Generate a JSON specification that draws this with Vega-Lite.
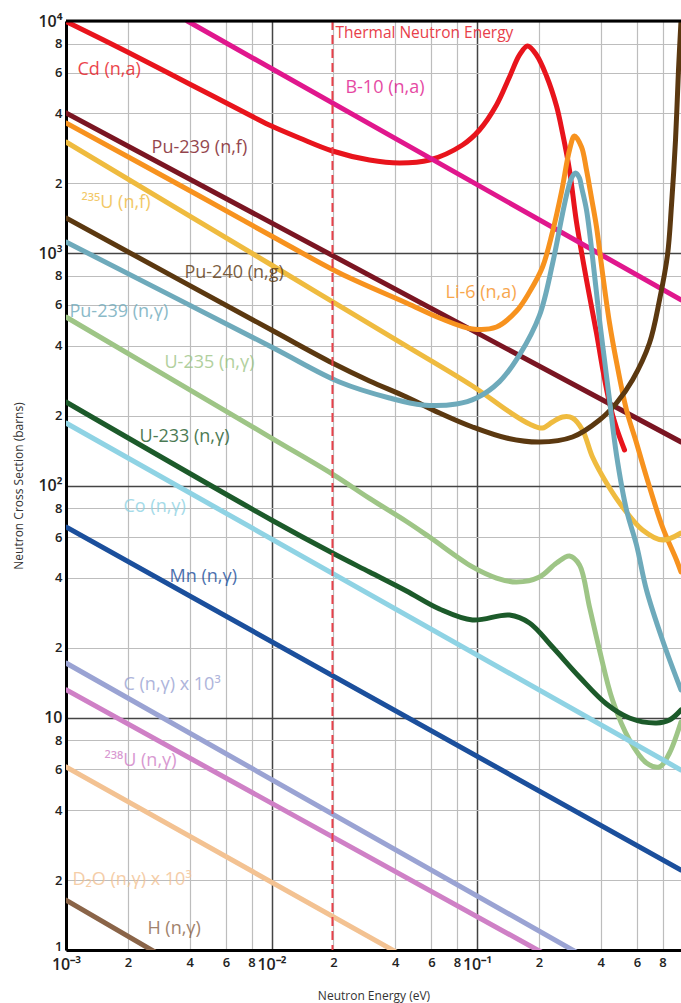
{
  "$schema": "https://vega.github.io/schema/vega-lite/v6.json",
  "width": 615,
  "height": 929,
  "autosize": "none",
  "padding": {"left": 66, "top": 21, "right": 0, "bottom": 53},
  "background": "white",
  "config": {"view": {"stroke": null}, "font": "Open Sans"},
  "datasets": {
    "curves": [
      {"series": "Cd (n,a)", "x": 0.001, "y": 9950},
      {"series": "Cd (n,a)", "x": 0.001992, "y": 7356},
      {"series": "Cd (n,a)", "x": 0.00399, "y": 5355},
      {"series": "Cd (n,a)", "x": 0.00799, "y": 3899},
      {"series": "Cd (n,a)", "x": 0.01, "y": 3530},
      {"series": "Cd (n,a)", "x": 0.01368, "y": 3135},
      {"series": "Cd (n,a)", "x": 0.0198, "y": 2756},
      {"series": "Cd (n,a)", "x": 0.03, "y": 2520},
      {"series": "Cd (n,a)", "x": 0.04197, "y": 2447},
      {"series": "Cd (n,a)", "x": 0.05873, "y": 2520},
      {"series": "Cd (n,a)", "x": 0.08499, "y": 2925},
      {"series": "Cd (n,a)", "x": 0.1028, "y": 3394},
      {"series": "Cd (n,a)", "x": 0.1244, "y": 4347},
      {"series": "Cd (n,a)", "x": 0.1439, "y": 5741},
      {"series": "Cd (n,a)", "x": 0.161, "y": 7140},
      {"series": "Cd (n,a)", "x": 0.1761, "y": 7805},
      {"series": "Cd (n,a)", "x": 0.1948, "y": 7140},
      {"series": "Cd (n,a)", "x": 0.2179, "y": 5798},
      {"series": "Cd (n,a)", "x": 0.2437, "y": 4305},
      {"series": "Cd (n,a)", "x": 0.2607, "y": 3294},
      {"series": "Cd (n,a)", "x": 0.2819, "y": 2282},
      {"series": "Cd (n,a)", "x": 0.3049, "y": 1363},
      {"series": "Cd (n,a)", "x": 0.3411, "y": 767},
      {"series": "Cd (n,a)", "x": 0.3815, "y": 453.7},
      {"series": "Cd (n,a)", "x": 0.4081, "y": 320.5},
      {"series": "Cd (n,a)", "x": 0.4414, "y": 226.6},
      {"series": "Cd (n,a)", "x": 0.4774, "y": 176.8},
      {"series": "Cd (n,a)", "x": 0.5222, "y": 142.2},

      {"series": "B-10 (n,a)", "x": 0.003897, "y": 10000},
      {"series": "B-10 (n,a)", "x": 0.9833, "y": 630},

      {"series": "Pu-239 (n,f)", "x": 0.001, "y": 4018},
      {"series": "Pu-239 (n,f)", "x": 0.9833, "y": 154},

      {"series": "Li-6 (n,a)", "x": 0.001, "y": 3638},
      {"series": "Li-6 (n,a)", "x": 0.004463, "y": 1764},
      {"series": "Li-6 (n,a)", "x": 0.01, "y": 1187},
      {"series": "Li-6 (n,a)", "x": 0.02142, "y": 822.2},
      {"series": "Li-6 (n,a)", "x": 0.04539, "y": 610.7},
      {"series": "Li-6 (n,a)", "x": 0.0657, "y": 526.4},
      {"series": "Li-6 (n,a)", "x": 0.09509, "y": 471.9},
      {"series": "Li-6 (n,a)", "x": 0.1244, "y": 481.4},
      {"series": "Li-6 (n,a)", "x": 0.1557, "y": 564},
      {"series": "Li-6 (n,a)", "x": 0.1801, "y": 681.1},
      {"series": "Li-6 (n,a)", "x": 0.2084, "y": 872.7},
      {"series": "Li-6 (n,a)", "x": 0.233, "y": 1235},
      {"series": "Li-6 (n,a)", "x": 0.2577, "y": 1835},
      {"series": "Li-6 (n,a)", "x": 0.2819, "y": 2784},
      {"series": "Li-6 (n,a)", "x": 0.2981, "y": 3198},
      {"series": "Li-6 (n,a)", "x": 0.3225, "y": 2868},
      {"series": "Li-6 (n,a)", "x": 0.3411, "y": 2282},
      {"series": "Li-6 (n,a)", "x": 0.3607, "y": 1729},
      {"series": "Li-6 (n,a)", "x": 0.3815, "y": 1300},
      {"series": "Li-6 (n,a)", "x": 0.4081, "y": 822.2},
      {"series": "Li-6 (n,a)", "x": 0.4414, "y": 500.8},
      {"series": "Li-6 (n,a)", "x": 0.4774, "y": 340.1},
      {"series": "Li-6 (n,a)", "x": 0.5339, "y": 211.4},
      {"series": "Li-6 (n,a)", "x": 0.5973, "y": 152.4},
      {"series": "Li-6 (n,a)", "x": 0.668, "y": 108.8},
      {"series": "Li-6 (n,a)", "x": 0.799, "y": 66.27},
      {"series": "Li-6 (n,a)", "x": 0.935, "y": 47.78},
      {"series": "Li-6 (n,a)", "x": 0.9833, "y": 42.43},

      {"series": "²³⁵U (n,f)", "x": 0.001, "y": 3013},
      {"series": "²³⁵U (n,f)", "x": 0.01, "y": 890},
      {"series": "²³⁵U (n,f)", "x": 0.02142, "y": 592.9},
      {"series": "²³⁵U (n,f)", "x": 0.04539, "y": 398.6},
      {"series": "²³⁵U (n,f)", "x": 0.09509, "y": 268.2},
      {"series": "²³⁵U (n,f)", "x": 0.1439, "y": 207.3},
      {"series": "²³⁵U (n,f)", "x": 0.1801, "y": 184},
      {"series": "²³⁵U (n,f)", "x": 0.2084, "y": 176.8},
      {"series": "²³⁵U (n,f)", "x": 0.233, "y": 187.7},
      {"series": "²³⁵U (n,f)", "x": 0.2607, "y": 197.2},
      {"series": "²³⁵U (n,f)", "x": 0.2915, "y": 195.3},
      {"series": "²³⁵U (n,f)", "x": 0.3261, "y": 173.4},
      {"series": "²³⁵U (n,f)", "x": 0.3648, "y": 132.6},
      {"series": "²³⁵U (n,f)", "x": 0.4268, "y": 102.5},
      {"series": "²³⁵U (n,f)", "x": 0.5105, "y": 80.81},
      {"series": "²³⁵U (n,f)", "x": 0.6389, "y": 64.33},
      {"series": "²³⁵U (n,f)", "x": 0.799, "y": 58.25},
      {"series": "²³⁵U (n,f)", "x": 0.9833, "y": 62.44},

      {"series": "Pu-240 (n,g)", "x": 0.001, "y": 1418},
      {"series": "Pu-240 (n,g)", "x": 0.01, "y": 467.2},
      {"series": "Pu-240 (n,g)", "x": 0.0198, "y": 336.8},
      {"series": "Pu-240 (n,g)", "x": 0.03, "y": 281.8},
      {"series": "Pu-240 (n,g)", "x": 0.04539, "y": 240.4},
      {"series": "Pu-240 (n,g)", "x": 0.0657, "y": 205.2},
      {"series": "Pu-240 (n,g)", "x": 0.09509, "y": 178.6},
      {"series": "Pu-240 (n,g)", "x": 0.1392, "y": 160.1},
      {"series": "Pu-240 (n,g)", "x": 0.2014, "y": 153.9},
      {"series": "Pu-240 (n,g)", "x": 0.2915, "y": 161.7},
      {"series": "Pu-240 (n,g)", "x": 0.3946, "y": 191.4},
      {"series": "Pu-240 (n,g)", "x": 0.4774, "y": 226.6},
      {"series": "Pu-240 (n,g)", "x": 0.571, "y": 284.7},
      {"series": "Pu-240 (n,g)", "x": 0.6909, "y": 410.7},
      {"series": "Pu-240 (n,g)", "x": 0.7728, "y": 629.1},
      {"series": "Pu-240 (n,g)", "x": 0.8453, "y": 983},
      {"series": "Pu-240 (n,g)", "x": 0.8841, "y": 1614},
      {"series": "Pu-240 (n,g)", "x": 0.9246, "y": 3073},
      {"series": "Pu-240 (n,g)", "x": 0.9561, "y": 6152},
      {"series": "Pu-240 (n,g)", "x": 0.9833, "y": 10000},

      {"series": "Pu-239 (n,γ)", "x": 0.001, "y": 1118},
      {"series": "Pu-239 (n,γ)", "x": 0.01, "y": 394.7},
      {"series": "Pu-239 (n,γ)", "x": 0.02142, "y": 279},
      {"series": "Pu-239 (n,γ)", "x": 0.03752, "y": 238.1},
      {"series": "Pu-239 (n,γ)", "x": 0.0543, "y": 222.2},
      {"series": "Pu-239 (n,γ)", "x": 0.07946, "y": 224.4},
      {"series": "Pu-239 (n,γ)", "x": 0.09945, "y": 238},
      {"series": "Pu-239 (n,γ)", "x": 0.1287, "y": 280},
      {"series": "Pu-239 (n,γ)", "x": 0.161, "y": 365},
      {"series": "Pu-239 (n,γ)", "x": 0.2014, "y": 540},
      {"series": "Pu-239 (n,γ)", "x": 0.233, "y": 900},
      {"series": "Pu-239 (n,γ)", "x": 0.2607, "y": 1480},
      {"series": "Pu-239 (n,γ)", "x": 0.2757, "y": 1850},
      {"series": "Pu-239 (n,γ)", "x": 0.2884, "y": 2109},
      {"series": "Pu-239 (n,γ)", "x": 0.3015, "y": 2216},
      {"series": "Pu-239 (n,γ)", "x": 0.3153, "y": 2109},
      {"series": "Pu-239 (n,γ)", "x": 0.3225, "y": 1929},
      {"series": "Pu-239 (n,γ)", "x": 0.3411, "y": 1536},
      {"series": "Pu-239 (n,γ)", "x": 0.3648, "y": 963.6},
      {"series": "Pu-239 (n,γ)", "x": 0.3946, "y": 516},
      {"series": "Pu-239 (n,γ)", "x": 0.4173, "y": 347},
      {"series": "Pu-239 (n,γ)", "x": 0.4414, "y": 233.4},
      {"series": "Pu-239 (n,γ)", "x": 0.4774, "y": 135.3},
      {"series": "Pu-239 (n,γ)", "x": 0.5339, "y": 78.44},
      {"series": "Pu-239 (n,γ)", "x": 0.5973, "y": 55.44},
      {"series": "Pu-239 (n,γ)", "x": 0.668, "y": 35.48},
      {"series": "Pu-239 (n,γ)", "x": 0.799, "y": 21.62},
      {"series": "Pu-239 (n,γ)", "x": 0.9833, "y": 13.17},

      {"series": "U-235 (n,γ)", "x": 0.001, "y": 531.5},
      {"series": "U-235 (n,γ)", "x": 0.01, "y": 160.1},
      {"series": "U-235 (n,γ)", "x": 0.0198, "y": 112},
      {"series": "U-235 (n,γ)", "x": 0.03, "y": 88},
      {"series": "U-235 (n,γ)", "x": 0.04539, "y": 70},
      {"series": "U-235 (n,γ)", "x": 0.05873, "y": 60},
      {"series": "U-235 (n,γ)", "x": 0.09509, "y": 44.6},
      {"series": "U-235 (n,γ)", "x": 0.1244, "y": 39.96},
      {"series": "U-235 (n,γ)", "x": 0.1557, "y": 38.41},
      {"series": "U-235 (n,γ)", "x": 0.2014, "y": 40.36},
      {"series": "U-235 (n,γ)", "x": 0.2437, "y": 46.38},
      {"series": "U-235 (n,γ)", "x": 0.2819, "y": 49.71},
      {"series": "U-235 (n,γ)", "x": 0.3153, "y": 45.47},
      {"series": "U-235 (n,γ)", "x": 0.3527, "y": 29.99},
      {"series": "U-235 (n,γ)", "x": 0.3946, "y": 19.57},
      {"series": "U-235 (n,γ)", "x": 0.4564, "y": 11.92},
      {"series": "U-235 (n,γ)", "x": 0.5522, "y": 8.021},
      {"series": "U-235 (n,γ)", "x": 0.668, "y": 6.387},
      {"series": "U-235 (n,γ)", "x": 0.7728, "y": 6.138},
      {"series": "U-235 (n,γ)", "x": 0.8643, "y": 7.05},
      {"series": "U-235 (n,γ)", "x": 0.9833, "y": 9.587},

      {"series": "U-233 (n,γ)", "x": 0.001, "y": 228.8},
      {"series": "U-233 (n,γ)", "x": 0.01, "y": 71.04},
      {"series": "U-233 (n,γ)", "x": 0.0198, "y": 51.2},
      {"series": "U-233 (n,γ)", "x": 0.03, "y": 42.4},
      {"series": "U-233 (n,γ)", "x": 0.04539, "y": 35.13},
      {"series": "U-233 (n,γ)", "x": 0.0657, "y": 29.39},
      {"series": "U-233 (n,γ)", "x": 0.09509, "y": 26.36},
      {"series": "U-233 (n,γ)", "x": 0.1439, "y": 27.69},
      {"series": "U-233 (n,γ)", "x": 0.1801, "y": 25.59},
      {"series": "U-233 (n,γ)", "x": 0.233, "y": 20.16},
      {"series": "U-233 (n,γ)", "x": 0.3153, "y": 14.98},
      {"series": "U-233 (n,γ)", "x": 0.4268, "y": 11.46},
      {"series": "U-233 (n,γ)", "x": 0.5522, "y": 9.975},
      {"series": "U-233 (n,γ)", "x": 0.7471, "y": 9.493},
      {"series": "U-233 (n,γ)", "x": 0.8643, "y": 9.779},
      {"series": "U-233 (n,γ)", "x": 0.9833, "y": 10.8},

      {"series": "Co (n,γ)", "x": 0.001, "y": 185.8},
      {"series": "Co (n,γ)", "x": 0.9833, "y": 5.957},

      {"series": "Mn (n,γ)", "x": 0.001, "y": 66.27},
      {"series": "Mn (n,γ)", "x": 0.9833, "y": 2.21},

      {"series": "C (n,γ) x 10³", "x": 0.001, "y": 17.2},
      {"series": "C (n,γ) x 10³", "x": 0.36, "y": 0.9},

      {"series": "²³⁸U (n,γ)", "x": 0.001, "y": 13.2},
      {"series": "²³⁸U (n,γ)", "x": 0.2445, "y": 0.9},

      {"series": "D₂O (n,γ) x 10³", "x": 0.001, "y": 6.14},
      {"series": "D₂O (n,γ) x 10³", "x": 0.048, "y": 0.9},

      {"series": "H (n,γ)", "x": 0.001, "y": 1.64},
      {"series": "H (n,γ)", "x": 0.0032, "y": 0.9}
    ],
    "labels": [
      {"series": "Cd (n,a)", "x": 0.001137, "y": 6150},
      {"series": "B-10 (n,a)", "x": 0.0229, "y": 5147},
      {"series": "Pu-239 (n,f)", "x": 0.00261, "y": 2838},
      {"series": "²³⁵U (n,f)", "x": 0.00119, "y": 1646},
      {"series": "Pu-240 (n,g)", "x": 0.00377, "y": 822},
      {"series": "Li-6 (n,a)", "x": 0.0703, "y": 675},
      {"series": "Pu-239 (n,γ)", "x": 0.00104, "y": 558},
      {"series": "U-235 (n,γ)", "x": 0.003015, "y": 337},
      {"series": "U-233 (n,γ)", "x": 0.00228, "y": 161.7},
      {"series": "Co (n,γ)", "x": 0.001905, "y": 80.8},
      {"series": "Mn (n,γ)", "x": 0.00319, "y": 40.4},
      {"series": "C (n,γ) x 10³", "x": 0.001905, "y": 13.8},
      {"series": "²³⁸U (n,γ)", "x": 0.001539, "y": 6.51},
      {"series": "D₂O (n,γ) x 10³", "x": 0.001076, "y": 2.0},
      {"series": "H (n,γ)", "x": 0.00249, "y": 1.23}
    ]
  },
  "layer": [
    {
      "data": {"name": "curves"},
      "mark": {"type": "line", "strokeWidth": 5, "interpolate": "catmull-rom", "clip": true, "strokeCap": "round", "strokeJoin": "round"},
      "encoding": {
        "x": {
          "field": "x", "type": "quantitative",
          "scale": {"type": "log", "domain": [0.001, 0.9833], "nice": false},
          "axis": {
            "title": "Neutron Energy (eV)",
            "titleFontSize": 12, "titleFontWeight": "normal", "titleColor": "#333", "titlePadding": 18,
            "values": [0.001, 0.002, 0.004, 0.006, 0.008, 0.01, 0.02, 0.04, 0.06, 0.08, 0.1, 0.2, 0.4, 0.6, 0.8],
            "labelExpr": "datum.value==0.001?'10⁻³':datum.value==0.01?'10⁻²':datum.value==0.1?'10⁻¹':datum.value<0.01?format(datum.value*1000,'.0f'):datum.value<0.1?format(datum.value*100,'.0f'):format(datum.value*10,'.0f')",
            "labelOverlap": false, "labelBound": false, "labelFlush": false,
            "labelFontSize": {"condition": {"test": "datum.value==0.001||datum.value==0.01||datum.value==0.1", "value": 16}, "value": 13},
            "labelFontWeight": 600, "labelColor": "#222", "labelPadding": 6,
            "ticks": false,
            "domainColor": "#000", "domainWidth": 3,
            "grid": true,
            "gridColor": {"condition": {"test": "datum.value==0.001||datum.value==0.01||datum.value==0.1", "value": "#444"}, "value": "#bdbdbd"},
            "gridWidth": {"condition": {"test": "datum.value==0.001||datum.value==0.01||datum.value==0.1", "value": 1.5}, "value": 1.2}
          }
        },
        "y": {
          "field": "y", "type": "quantitative",
          "scale": {"type": "log", "domain": [1, 10000], "nice": false},
          "axis": {
            "title": "Neutron Cross Section (barns)",
            "titleFontSize": 12, "titleFontWeight": "normal", "titleColor": "#333", "titlePadding": 12,
            "values": [1, 2, 4, 6, 8, 10, 20, 40, 60, 80, 100, 200, 400, 600, 800, 1000, 2000, 4000, 6000, 8000, 10000],
            "labelExpr": "datum.value==10000?'10⁴':datum.value==1000?'10³':datum.value==100?'10²':datum.value==10?'10':datum.value==1?'1':datum.value<10?format(datum.value,'.0f'):datum.value<100?format(datum.value/10,'.0f'):datum.value<1000?format(datum.value/100,'.0f'):format(datum.value/1000,'.0f')",
            "labelOverlap": false, "labelBound": false, "labelFlush": false,
            "labelOffset": {"condition": {"test": "datum.value==1", "value": -4}, "value": 0},
            "labelFontSize": {"condition": {"test": "datum.value==10||datum.value==100||datum.value==1000||datum.value==10000", "value": 16}, "value": 13},
            "labelFontWeight": 600, "labelColor": "#222", "labelPadding": 4,
            "ticks": false,
            "domainColor": "#000", "domainWidth": 3,
            "grid": true,
            "gridColor": {"condition": {"test": "datum.value==1||datum.value==10||datum.value==100||datum.value==1000||datum.value==10000", "value": "#444"}, "value": "#bdbdbd"},
            "gridWidth": {"condition": {"test": "datum.value==1||datum.value==10||datum.value==100||datum.value==1000||datum.value==10000", "value": 1.5}, "value": 1.2}
          }
        },
        "color": {
          "field": "series", "type": "nominal", "legend": null,
          "scale": {
            "domain": ["H (n,γ)", "D₂O (n,γ) x 10³", "²³⁸U (n,γ)", "C (n,γ) x 10³", "Mn (n,γ)", "Co (n,γ)", "U-233 (n,γ)", "U-235 (n,γ)", "Pu-240 (n,g)", "²³⁵U (n,f)", "Pu-239 (n,f)", "B-10 (n,a)", "Li-6 (n,a)", "Pu-239 (n,γ)", "Cd (n,a)"],
            "range": ["#8a6448", "#f3c292", "#cf80c6", "#9aa3d3", "#1b4f9c", "#8fd3e4", "#1c5a2a", "#9ec586", "#5b3810", "#efbb3f", "#7a1522", "#e0178d", "#f7921e", "#6eaabb", "#e8141c"]
          }
        }
      }
    },
    {
      "data": {"values": [{"x": 0.0198}]},
      "mark": {"type": "rule", "color": "#e8404a", "strokeWidth": 2, "strokeDash": [9, 5]},
      "encoding": {"x": {"field": "x", "type": "quantitative"}}
    },
    {
      "data": {"values": [{"x": 0.0198, "y": 10000, "label": "Thermal Neutron Energy"}]},
      "mark": {"type": "text", "align": "left", "baseline": "middle", "dx": 3, "dy": 12, "fontSize": 15.5, "color": "#e8404a"},
      "encoding": {
        "x": {"field": "x", "type": "quantitative"},
        "y": {"field": "y", "type": "quantitative"},
        "text": {"field": "label"}
      }
    },
    {
      "data": {"name": "labels"},
      "mark": {"type": "text", "align": "left", "baseline": "middle", "fontSize": 18, "opacity": 0.8},
      "encoding": {
        "x": {"field": "x", "type": "quantitative"},
        "y": {"field": "y", "type": "quantitative"},
        "text": {"field": "series"},
        "color": {"field": "series", "type": "nominal"}
      }
    },
    {
      "data": {"values": [{}]},
      "mark": {"type": "rule", "color": "#000", "strokeWidth": 3},
      "encoding": {"y": {"datum": 10000}}
    }
  ]
}
